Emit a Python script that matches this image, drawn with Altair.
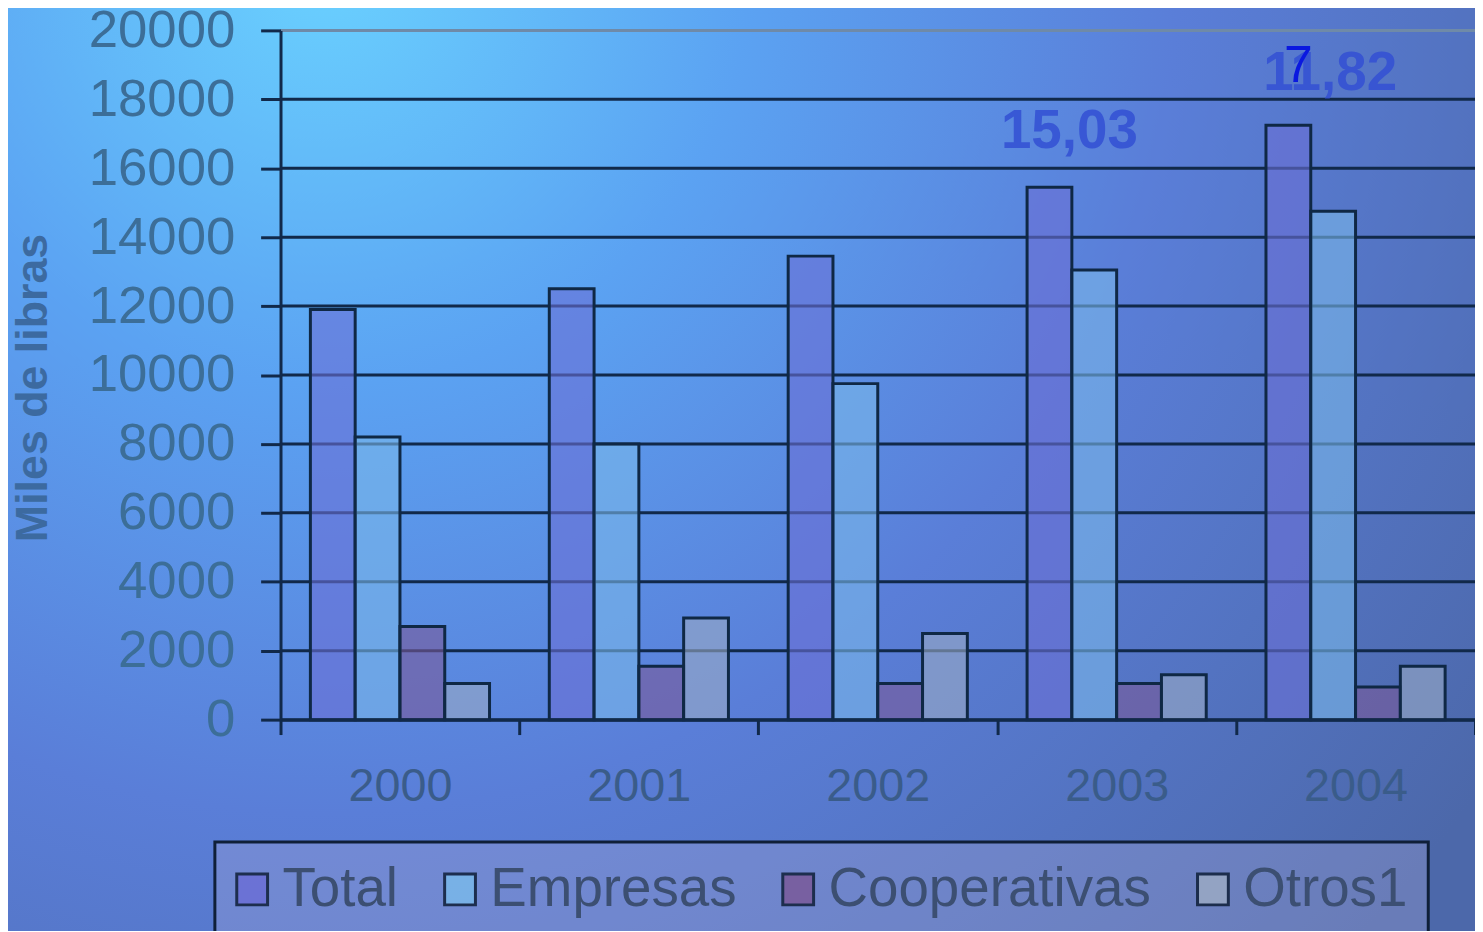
import altair as alt
import pandas as pd

years = ["2000", "2001", "2002", "2003", "2004"]
series = ["Total", "Empresas", "Cooperativas", "Otros1"]
total = [11900, 12500, 13450, 15450, 17250]
empresas = [8200, 8000, 9750, 13050, 14750]
cooperativas = [2700, 1550, 1050, 1050, 950]
otros = [1050, 2950, 2500, 1300, 1550]
y_ticks = list(range(0, 20001, 2000))
colors = ["#6b6fd6", "#7ab8ea", "#7a5a9a", "#9aaac4"]

annot_years = ["2003", "2004"]
annot_text = ["15,03", "11,82"]
overlay_years = ["2004"]
overlay_text = ["7"]

rows = []
for i, yr in enumerate(years):
    for s, vals in zip(series, [total, empresas, cooperativas, otros]):
        rows.append({"year": yr, "series": s, "value": vals[i]})
df = pd.DataFrame(rows)

df_annot = pd.DataFrame({
    "year": annot_years,
    "label": annot_text,
    "series": ["Total"] * len(annot_years),
    "value": [total[years.index(y)] for y in annot_years],
})
df_over = pd.DataFrame({
    "year": overlay_years,
    "label": overlay_text,
    "series": ["Total"] * len(overlay_years),
    "value": [total[years.index(y)] for y in overlay_years],
})
df_grid = pd.DataFrame({"value": y_ticks})

FONT = "Liberation Sans"
DARK = "#11294a"

bg_grad = {
    "gradient": "radial",
    "x1": 0.22, "y1": 0.15, "r1": 0.0,
    "x2": 0.22, "y2": 0.15, "r2": 0.95,
    "stops": [
        {"offset": 0.0, "color": "#6ad2ff"},
        {"offset": 0.3, "color": "#5ba2f2"},
        {"offset": 0.6, "color": "#5a7ed8"},
        {"offset": 1.0, "color": "#4c68aa"},
    ],
}

background = alt.Chart(pd.DataFrame({"a": [0]})).mark_rect(fill=bg_grad).encode(
    x=alt.value(-290), x2=alt.value(1220), y=alt.value(-30), y2=alt.value(940)
)

y_scale = alt.Scale(domain=[0, 20000], nice=False)

grid = alt.Chart(df_grid).mark_rule(strokeWidth=3).encode(
    y=alt.Y("value:Q", scale=y_scale),
    color=alt.condition(alt.datum.value == 20000, alt.value("#6f8aa8"), alt.value(DARK)),
)

x_enc = alt.X(
    "year:N", sort=years,
    scale=alt.Scale(paddingInner=0, paddingOuter=0),
    axis=alt.Axis(
        title=None, labelAngle=0, labelFontSize=47, labelFont=FONT,
        labelColor="#3a5c8a", tickBand="extent", tickSize=15, tickWidth=3,
        tickColor=DARK, domainColor=DARK, domainWidth=3, labelPadding=29,
        grid=False, zindex=1,
    ),
)
xo_enc = alt.XOffset("series:N", sort=series,
                     scale=alt.Scale(domain=series, paddingInner=0, paddingOuter=0.667))
y_enc = alt.Y(
    "value:Q",
    scale=y_scale,
    axis=alt.Axis(
        values=y_ticks, format="d", labelFontSize=53, labelFont=FONT,
        labelColor="#3c6e98", tickSize=20, tickWidth=3, tickColor=DARK,
        domainColor=DARK, domainWidth=3, grid=False, zindex=1,
        labelPadding=26, title="Miles de libras", titleFontSize=45,
        titleFont=FONT, titleFontWeight="bold", titleColor="#3c6aa0",
        titleX=-249, titleY=359, titleAngle=270, titleBaseline="middle",
        titleAlign="center",
    ),
)

bars = alt.Chart(df).mark_bar(stroke="#0f2845", strokeWidth=3, fillOpacity=0.6).encode(
    x=x_enc,
    xOffset=xo_enc,
    y=y_enc,
    fill=alt.Fill(
        "series:N", sort=series,
        scale=alt.Scale(domain=series, range=colors),
        legend=alt.Legend(
            orient="none", legendX=-66, legendY=816, direction="horizontal",
            title=None, labelFontSize=55, labelFont=FONT, labelColor="#3c4f72",
            labelLimit=0,
            symbolType="square", symbolSize=960, symbolStrokeColor="#0f1f38",
            symbolStrokeWidth=3, symbolOpacity=0.85, padding=20, symbolOffset=-10,
            strokeColor="#0f1f38", fillColor="rgba(160,162,212,0.35)",
            columnPadding=40, labelOffset=3,
        ),
    ),
)

def annot(year, dx, dy):
    return alt.Chart(df_annot).transform_filter(alt.datum.year == year).mark_text(
        font=FONT, fontSize=55, fontWeight="bold", color="#3350d4", opacity=0.85,
        baseline="alphabetic", align="center", dx=dx, dy=dy,
    ).encode(x=alt.X("year:N", sort=years), xOffset=alt.XOffset("series:N", sort=series),
             y="value:Q", text="label:N")

t1 = annot("2003", 20, -39)
t2 = annot("2004", 42, -35)
t3 = alt.Chart(df_over).mark_text(
    font=FONT, fontSize=52, color="#0a18e0", baseline="alphabetic",
    align="center", dx=10, dy=-43,
).encode(x=alt.X("year:N", sort=years), xOffset=alt.XOffset("series:N", sort=series),
         y="value:Q", text="label:N")

chart = alt.layer(background, grid, bars, t1, t2, t3).properties(
    width=1201, height=693,
    autosize=alt.AutoSizeParams(type="none"),
    padding={"left": 274, "top": 20, "right": 0, "bottom": 210},
).configure_view(stroke=None).configure_legend(strokeWidth=3)

chart.save("out.html", embed_options={"renderer": "svg", "actions": False})
